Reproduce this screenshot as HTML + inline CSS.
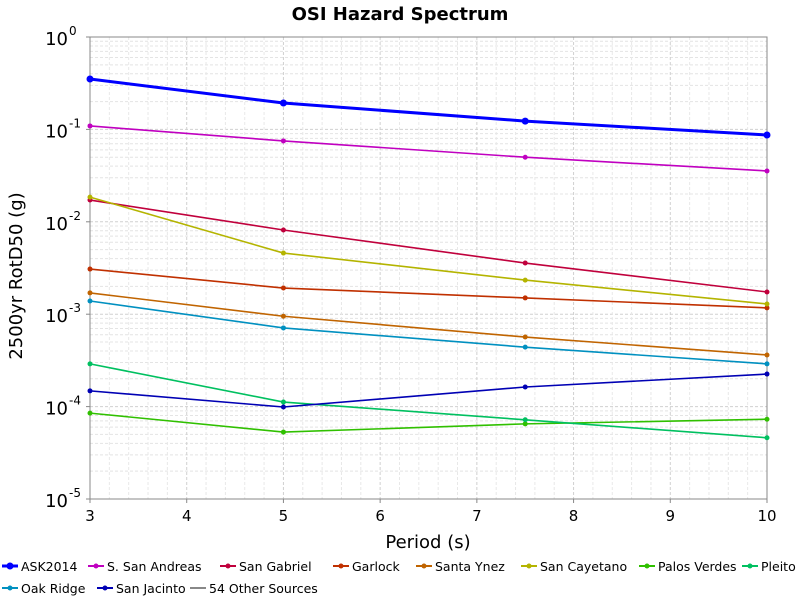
<!DOCTYPE html>
<html><head><meta charset="utf-8"><style>
body{margin:0;background:#fff;font-family:"DejaVu Sans","Liberation Sans",sans-serif;}
svg text{font-family:"DejaVu Sans","Liberation Sans",sans-serif;}
</style></head><body>
<svg id="c" width="800" height="600" xmlns="http://www.w3.org/2000/svg"></svg>
<script>
const periods=[3,5,7.5,10];
const seriesNames=["ASK2014","S. San Andreas","San Gabriel","Garlock","Santa Ynez","San Cayetano","Palos Verdes","Pleito","Oak Ridge","San Jacinto"];
const vASK=[0.351,0.193,0.123,0.087];
const vSSA=[0.109,0.075,0.050,0.0355];
const vSG=[0.0172,0.00815,0.00358,0.00174];
const vGar=[0.00308,0.00192,0.0015,0.00117];
const vSY=[0.0017,0.00095,0.000566,0.000362];
const vSC=[0.0185,0.00459,0.00234,0.00129];
const vPV=[8.5e-5,5.3e-5,6.5e-5,7.3e-5];
const vPl=[2.9e-4,1.12e-4,7.2e-5,4.6e-5];
const vOR=[0.00139,0.00071,0.00044,0.00029];
const vSJ=[1.48e-4,9.9e-5,1.63e-4,2.25e-4];
const xTicks=[3,4,5,6,7,8,9,10];
const yExps=[0,-1,-2,-3,-4,-5];
const values=[vASK,vSSA,vSG,vGar,vSY,vSC,vPV,vPl,vOR,vSJ];
const colors=["#0000ff","#c000c0","#c0003c","#c03000","#c06400","#b4b400","#30c000","#00c060","#0090c0","#0000b4"];
const L=90,R=767,T=37,B=499;
const xs=v=>L+(v-3)/7*(R-L);
const ys=v=>T+(-Math.log10(v))/5*(B-T);
const s=document.getElementById('c');const NS="http://www.w3.org/2000/svg";
function mk(t,a,p){const e=document.createElementNS(NS,t);for(const k in a)e.setAttribute(k,a[k]);(p||s).appendChild(e);return e;}
mk('rect',{x:L,y:T,width:R-L,height:B-T,fill:'#fff'});
for(let d=0;d<5;d++)for(let m=1;m<=9;m++){const v=Math.pow(10,-d-1)*m;const y=ys(v);
 const g=mk('line',{x1:L,x2:R,y1:y,y2:y,stroke:m==1?'#d0d0d0':'#e4e4e4','stroke-dasharray':'3,2'});
 }
for(const t of xTicks){for(let k=0;k<5;k++){const x=xs(t+k*0.2);if(x>R)break;
 const g=mk('line',{x1:x,x2:x,y1:T,y2:B,stroke:k==0?'#d0d0d0':'#e8e8e8','stroke-dasharray':'3,2'});
 }}
const fr=mk('rect',{x:L,y:T,width:R-L,height:B-T,fill:'none',stroke:'#888'});

for(const t of xTicks){const x=xs(t);
 mk('line',{x1:x,x2:x,y1:B,y2:B+4,stroke:'#888'});
 const tx=mk('text',{x:x,y:B+22,'text-anchor':'middle','font-size':15,fill:'#000'});tx.textContent=t;
 }
for(const e of yExps){const y=ys(Math.pow(10,e));
 mk('line',{x1:L-4,x2:L,y1:y,y2:y,stroke:'#888'});
 const tx=mk('text',{x:L-22,y:y+8,'text-anchor':'end','font-size':18,fill:'#000'});tx.textContent='10';
 
 const sp=mk('text',{x:L-21,y:y-2,'text-anchor':'start','font-size':12,fill:'#000'});sp.textContent=String(e);
 }
values.forEach((vals,i)=>{const g=mk('g',{});
 
 const w=i==0?3:1.6, r=i==0?3.5:2.5;
 mk('polyline',{points:vals.map((v,j)=>xs(periods[j])+','+ys(v)).join(' '),fill:'none',stroke:colors[i],'stroke-width':w},g);
 vals.forEach((v,j)=>{const c=mk('circle',{cx:xs(periods[j]),cy:ys(v),r:r,fill:colors[i]},g);
  });});
let t=mk('text',{x:400,y:20,'text-anchor':'middle','font-size':18,'font-weight':'bold'});t.textContent='OSI Hazard Spectrum';

t=mk('text',{x:428,y:548,'text-anchor':'middle','font-size':18});t.textContent='Period (s)';

t=mk('text',{x:0,y:0,'text-anchor':'middle','font-size':18,transform:'translate(22,276) rotate(-90)'});t.textContent='2500yr RotD50 (g)';

const legNames=seriesNames.concat(["54 Other Sources"]);
const legColors=colors.concat(["#888888"]);
const legX=[2,88,220,333,416,521,639,742,2,97,190];
legNames.forEach((n,i)=>{const row=i<8?0:1;const y=row?588:566;const x=legX[i];
 const g=mk('g',{});
 mk('line',{x1:x,x2:x+16,y1:y,y2:y,stroke:legColors[i],'stroke-width':i==0?3:2},g);
 if(i<10)mk('circle',{cx:x+8,cy:y,r:i==0?3.5:2.5,fill:legColors[i]},g);
 const tx=mk('text',{x:x+19,y:y+5,'font-size':12.5,fill:'#000'},g);tx.textContent=n;});
</script>
</body></html>
